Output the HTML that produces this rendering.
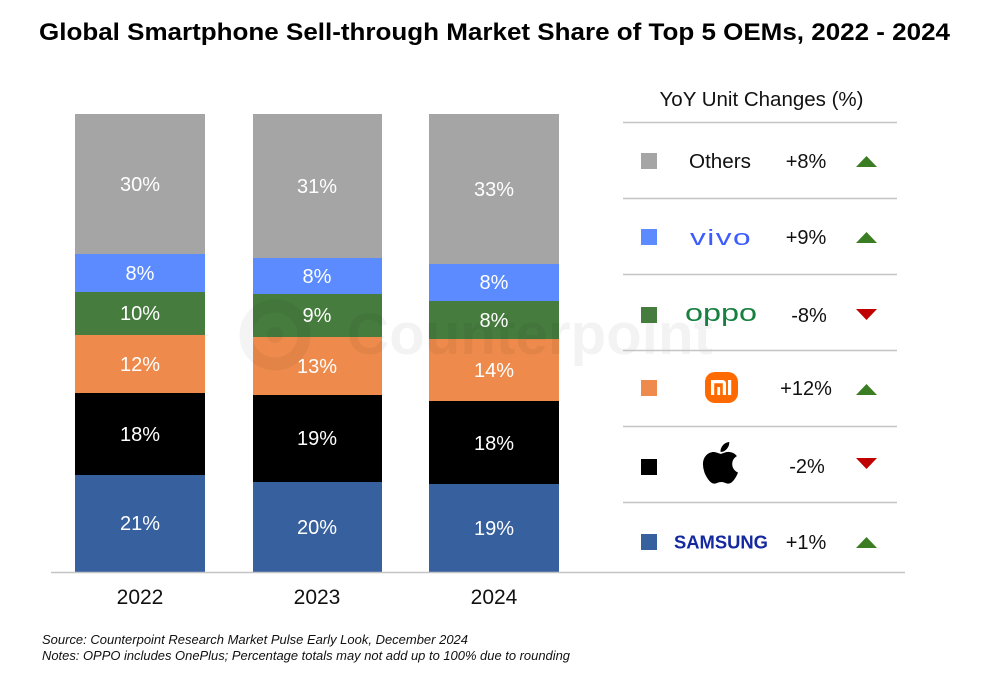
<!DOCTYPE html>
<html>
<head>
<meta charset="utf-8">
<style>
  html, body { margin: 0; padding: 0; background: #ffffff; }
  svg { display: block; }
  text { font-family: "Liberation Sans", Arial, sans-serif; }
</style>
</head>
<body>
<svg width="985" height="674" viewBox="0 0 985 674" xmlns="http://www.w3.org/2000/svg">
  <rect width="985" height="674" fill="#ffffff"/>

  <!-- Title -->
  <text x="39" y="40" font-size="24.5" font-weight="bold" fill="#000" textLength="911" lengthAdjust="spacingAndGlyphs">Global Smartphone Sell-through Market Share of Top 5 OEMs, 2022 - 2024</text>

  <!-- Bar 2022 -->
  <rect x="75" y="114" width="130" height="140" fill="#a5a5a5"/>
  <rect x="75" y="254" width="130" height="38" fill="#5b8bff"/>
  <rect x="75" y="292" width="130" height="43" fill="#467c3e"/>
  <rect x="75" y="335" width="130" height="58" fill="#ee8b4c"/>
  <rect x="75" y="393" width="130" height="82" fill="#000000"/>
  <rect x="75" y="475" width="130" height="97" fill="#37609f"/>

  <!-- Bar 2023 -->
  <rect x="253" y="114" width="129" height="144" fill="#a5a5a5"/>
  <rect x="253" y="258" width="129" height="36" fill="#5b8bff"/>
  <rect x="253" y="294" width="129" height="43" fill="#467c3e"/>
  <rect x="253" y="337" width="129" height="58" fill="#ee8b4c"/>
  <rect x="253" y="395" width="129" height="87" fill="#000000"/>
  <rect x="253" y="482" width="129" height="90" fill="#37609f"/>

  <!-- Bar 2024 -->
  <rect x="429" y="114" width="130" height="150" fill="#a5a5a5"/>
  <rect x="429" y="264" width="130" height="37" fill="#5b8bff"/>
  <rect x="429" y="301" width="130" height="38" fill="#467c3e"/>
  <rect x="429" y="339" width="130" height="62" fill="#ee8b4c"/>
  <rect x="429" y="401" width="130" height="83" fill="#000000"/>
  <rect x="429" y="484" width="130" height="88" fill="#37609f"/>

  <!-- Watermark -->
  <g opacity="0.045">
    <circle cx="275" cy="335" r="29" fill="none" stroke="#000" stroke-width="13"/>
    <circle cx="275" cy="335" r="8" fill="#000"/>
    <text x="347" y="354" font-size="58" font-weight="bold" fill="#000" textLength="366" lengthAdjust="spacingAndGlyphs">Counterpoint</text>
  </g>

  <!-- Bar labels -->
  <g font-size="20" fill="#ffffff" text-anchor="middle">
    <text x="140" y="191">30%</text>
    <text x="140" y="280">8%</text>
    <text x="140" y="320">10%</text>
    <text x="140" y="371">12%</text>
    <text x="140" y="441">18%</text>
    <text x="140" y="530">21%</text>

    <text x="317" y="193">31%</text>
    <text x="317" y="283">8%</text>
    <text x="317" y="322">9%</text>
    <text x="317" y="373">13%</text>
    <text x="317" y="445">19%</text>
    <text x="317" y="534">20%</text>

    <text x="494" y="196">33%</text>
    <text x="494" y="289">8%</text>
    <text x="494" y="327">8%</text>
    <text x="494" y="377">14%</text>
    <text x="494" y="450">18%</text>
    <text x="494" y="535">19%</text>
  </g>

  <!-- Axis line -->
  <line x1="51" y1="572.5" x2="905" y2="572.5" stroke="#c4c4c4" stroke-width="1.5"/>

  <!-- Year labels -->
  <g font-size="21" fill="#111" text-anchor="middle">
    <text x="140" y="604">2022</text>
    <text x="317" y="604">2023</text>
    <text x="494" y="604">2024</text>
  </g>

  <!-- Legend title -->
  <text x="761.5" y="106" font-size="20.5" fill="#111" text-anchor="middle">YoY Unit Changes (%)</text>

  <!-- Legend separators -->
  <g stroke="#c4c4c4" stroke-width="1.5">
    <line x1="623" y1="122.5" x2="897" y2="122.5"/>
    <line x1="623" y1="198.5" x2="897" y2="198.5"/>
    <line x1="623" y1="274.5" x2="897" y2="274.5"/>
    <line x1="623" y1="350.5" x2="897" y2="350.5"/>
    <line x1="623" y1="426.5" x2="897" y2="426.5"/>
    <line x1="623" y1="502.5" x2="897" y2="502.5"/>
  </g>

  <!-- Legend squares -->
  <rect x="641" y="153" width="16" height="16" fill="#a5a5a5"/>
  <rect x="641" y="229" width="16" height="16" fill="#5b8bff"/>
  <rect x="641" y="307" width="16" height="16" fill="#467c3e"/>
  <rect x="641" y="380" width="16" height="16" fill="#ee8b4c"/>
  <rect x="641" y="459" width="16" height="16" fill="#000000"/>
  <rect x="641" y="534" width="16" height="16" fill="#37609f"/>

  <!-- Legend names / logos -->
  <text x="689" y="168" font-size="20" fill="#111" textLength="62" lengthAdjust="spacingAndGlyphs">Others</text>
  <text x="690" y="245" font-size="22" fill="#3d5cff" textLength="62" lengthAdjust="spacingAndGlyphs" letter-spacing="1">vivo</text>
  <text x="685" y="321" font-size="24" fill="#17803f" textLength="72" lengthAdjust="spacingAndGlyphs">oppo</text>

  <!-- Xiaomi logo -->
  <rect x="705" y="372" width="33" height="31" rx="10" ry="10" fill="#ff6a00"/>
  <path d="M711 395 V380 H722.5 a3.5 3.5 0 0 1 3.5 3.5 V395 H722.8 V383.2 H714.2 V395 Z" fill="#ffffff"/>
  <rect x="717.3" y="387" width="2.8" height="8" fill="#ffffff"/>
  <rect x="728" y="380" width="3.2" height="15" fill="#ffffff"/>

  <!-- Apple logo -->
  <g transform="translate(702.6 439) scale(0.093)">
    <path fill="#000" d="M318.7 268.7c-.2-36.7 16.4-64.4 50-84.8-18.8-26.9-47.2-41.7-84.7-44.6-35.5-2.8-74.3 20.7-88.5 20.7-15 0-49.4-19.7-76.4-19.7C63.3 141.2 4 184.8 4 273.5q0 39.3 14.4 81.2c12.8 36.7 59 126.7 107.200 125.2 25.2-.6 43-17.9 75.8-17.9 31.8 0 48.3 17.9 76.4 17.9 48.6-.7 90.4-82.5 102.6-119.3-65.2-30.7-61.7-90-61.7-91.9zm-56.6-164.2c27.3-32.4 24.8-61.9 24-72.5-24.1 1.4-52 16.4-67.9 34.9-17.5 19.800-27.8 44.3-25.6 71.9 26.1 2 49.9-11.4 69.5-34.3z"/>
  </g>

  <text x="674" y="548.5" font-size="18" font-weight="bold" fill="#1428a0" textLength="94" lengthAdjust="spacingAndGlyphs">SAMSUNG</text>

  <!-- Legend values -->
  <g font-size="20" fill="#111" text-anchor="middle">
    <text x="806" y="168">+8%</text>
    <text x="806" y="244">+9%</text>
    <text x="809" y="322">-8%</text>
    <text x="806" y="395">+12%</text>
    <text x="807" y="473">-2%</text>
    <text x="806" y="549">+1%</text>
  </g>

  <!-- Triangles -->
  <polygon points="856,167 877,167 866.5,156" fill="#3a7d22"/>
  <polygon points="856,243 877,243 866.5,232" fill="#3a7d22"/>
  <polygon points="856,309 877,309 866.5,320" fill="#c00000"/>
  <polygon points="856,395 877,395 866.5,384" fill="#3a7d22"/>
  <polygon points="856,458 877,458 866.5,469" fill="#c00000"/>
  <polygon points="856,548 877,548 866.5,537" fill="#3a7d22"/>

  <!-- Footnotes -->
  <text x="42" y="644" font-size="12.5" font-style="italic" fill="#111" textLength="426" lengthAdjust="spacingAndGlyphs">Source: Counterpoint Research Market Pulse Early Look, December 2024</text>
  <text x="42" y="660" font-size="12.5" font-style="italic" fill="#111" textLength="528" lengthAdjust="spacingAndGlyphs">Notes: OPPO includes OnePlus; Percentage totals may not add up to 100% due to rounding</text>
</svg>
</body>
</html>
